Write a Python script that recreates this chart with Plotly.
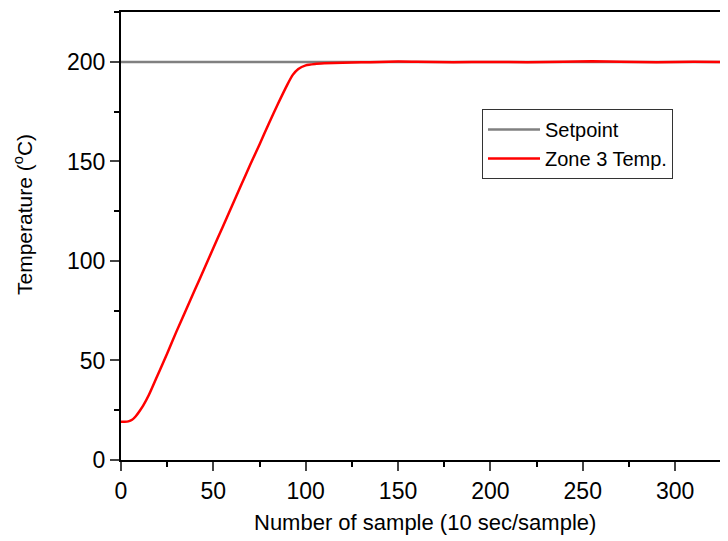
import plotly.graph_objects as go

# Data
samples = [0, 2, 4, 6, 8, 10, 12, 15, 20, 25, 30, 35, 40, 45, 50, 55, 60, 65, 70, 75,
           80, 85, 90, 93, 96, 100, 105, 110, 120, 130, 140, 150, 160, 180, 200, 220,
           240, 255, 270, 290, 310, 330]
zone3_temp = [19.2, 19.2, 19.4, 20.2, 22.0, 24.5, 27.3, 32.5, 43.0, 53.5, 64.5, 75.0,
              85.5, 96.0, 106.5, 117.0, 127.5, 138.0, 148.5, 158.5, 169.0, 179.0, 188.5,
              193.5, 196.5, 198.3, 199.0, 199.3, 199.6, 199.8, 200.0, 200.2, 200.1,
              199.9, 200.0, 199.9, 200.1, 200.3, 200.1, 199.9, 200.1, 200.0]
setpoint_x = [0, 330]
setpoint_y = [200, 200]

x_ticks = [0, 50, 100, 150, 200, 250, 300]
y_ticks = [0, 50, 100, 150, 200]

font_family = "Liberation Sans, Arial, sans-serif"

W, H = 712, 533
L, T, B = 113, 4, 81
PW = W - L
PH = H - T - B

fig = go.Figure()
fig.add_trace(go.Scatter(x=setpoint_x, y=setpoint_y, mode="lines", name="Setpoint",
                         line=dict(color="#808080", width=2.5)))
fig.add_trace(go.Scatter(x=samples, y=zone3_temp, mode="lines", name="Zone 3 Temp.",
                         line=dict(color="#ff0000", width=2.5, shape="spline", smoothing=0.6)))

fig.update_layout(
    width=W, height=H,
    margin=dict(l=L, r=0, t=T, b=B),
    paper_bgcolor="white", plot_bgcolor="white",
    font=dict(family=font_family, color="black"),
    showlegend=True,
    legend=dict(x=(474 - L) / PW, y=1 - (101 - T) / PH, xanchor="left", yanchor="top",
                bordercolor="#333333", borderwidth=1, bgcolor="white",
                font=dict(size=20, family=font_family),
                tracegroupgap=0, itemwidth=52),
    xaxis=dict(range=[0, PW / 1.847], tickvals=x_ticks, ticks="outside", ticklen=9,
               tickwidth=2, linewidth=2, linecolor="black", mirror=True,
               showgrid=False, zeroline=False, tickfont=dict(size=23),
               minor=dict(dtick=25, tick0=0, ticks="outside", ticklen=5, tickwidth=2,
                          tickcolor="black", showgrid=False)),
    yaxis=dict(range=[0, 225.1], tickvals=y_ticks, ticks="outside", ticklen=9,
               tickwidth=2, linewidth=2, linecolor="black", mirror=False,
               showgrid=False, zeroline=False, tickfont=dict(size=23),
               minor=dict(dtick=25, tick0=0, ticks="outside", ticklen=5, tickwidth=2,
                          tickcolor="black", showgrid=False)),
    annotations=[
        dict(text="Number of sample (10 sec/sample)", xref="paper", yref="paper",
             x=(417 - L) / PW, y=-(514 - (T + PH)) / PH, xanchor="center", yanchor="middle",
             showarrow=False, font=dict(size=22, family=font_family)),
        dict(text="Temperature (<sup>o</sup>C)", xref="paper", yref="paper",
             x=-(L - 15) / PW, y=((T + PH) - 206) / PH, xanchor="center", yanchor="middle",
             textangle=-90, showarrow=False, font=dict(size=21, family=font_family)),
    ],
)

fig.write_html("out.html")
